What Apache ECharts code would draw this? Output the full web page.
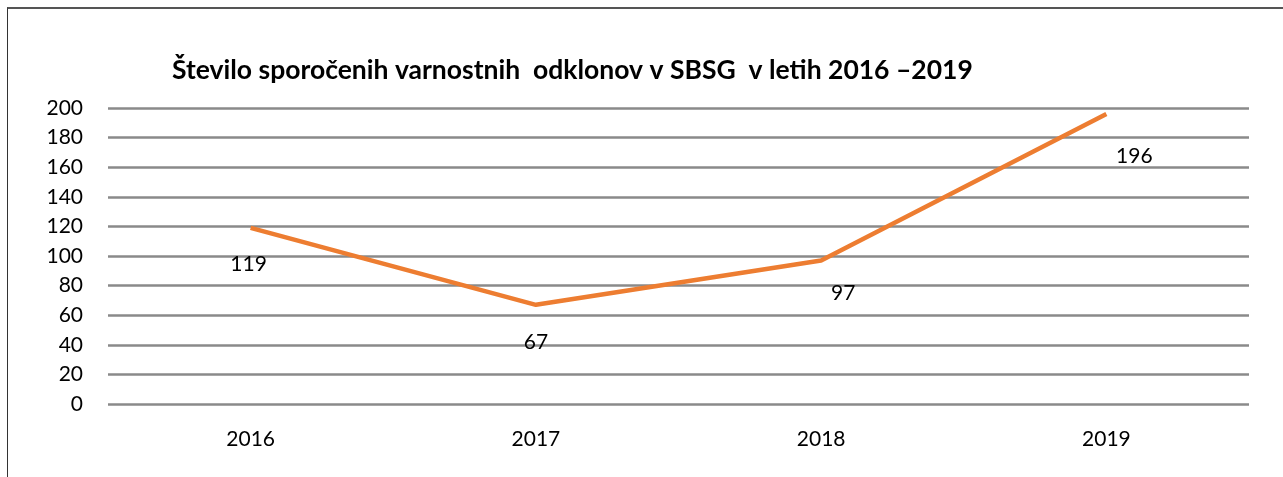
<!DOCTYPE html>
<html>
<head>
<meta charset="utf-8">
<title>Število sporočenih varnostnih odklonov</title>
<script src="https://cdn.jsdelivr.net/npm/echarts@6/dist/echarts.min.js"></script>
<style>
  html, body { margin: 0; padding: 0; background: #fff; }
  #line_1 { position: absolute; left: 0; top: 0; width: 1283px; height: 477px; }
  #frame { position: absolute; left: 7px; top: 7px; width: 1290px; height: 480px;
           border-left: 1px solid #333; border-top: 2px solid #555; pointer-events: none; }
</style>
</head>
<body>
<div id="line_1"></div>
<div id="frame"></div>
<script>
  // podatki
  const titleText = 'Število sporočenih varnostnih  odklonov v SBSG  v letih 2016 –2019'
  const years = ['2016', '2017', '2018', '2019']
  const counts = [119, 67, 97, 196]

  const font = 'Lato, "Open Sans", sans-serif'
  // ročno premaknjene oznake (kot v Excelu)
  const labelShift = [[-2, 36], [0, 37], [22, 33], [28, 42]]

  const myChart = echarts.init(document.getElementById('line_1'))

  const option = {
    animation: false,
    title: {
      text: titleText,
      left: 167,
      top: 52,
      textStyle: { fontFamily: font, fontSize: 26.5, fontWeight: 'bold', color: '#000' }
    },
    grid: { left: 108, right: 34, top: 108, bottom: 73 },
    xAxis: {
      type: 'category',
      data: years,
      boundaryGap: true,
      axisLine: { show: false },
      axisTick: { show: false },
      axisLabel: { fontFamily: font, fontSize: 21, color: '#000', margin: 25 }
    },
    yAxis: {
      type: 'value',
      min: 0,
      max: 200,
      interval: 20,
      axisLine: { show: false },
      axisTick: { show: false },
      axisLabel: { fontFamily: font, fontSize: 21, color: '#000', margin: 25 },
      splitLine: { lineStyle: { color: '#8a8a8a', width: 2.5 } }
    },
    series: [
      {
        type: 'line',
        data: counts.map((v, i) => ({
          value: v,
          label: { offset: labelShift[i] }
        })),
        symbol: 'circle',
        symbolSize: 0,
        lineStyle: { color: '#ED7D31', width: 4.5 },
        itemStyle: { color: '#ED7D31' },
        label: {
          show: true,
          position: 'inside',
          fontFamily: font,
          fontSize: 21,
          color: '#000'
        }
      }
    ]
  }
  option && myChart.setOption(option)
</script>
</body>
</html>
